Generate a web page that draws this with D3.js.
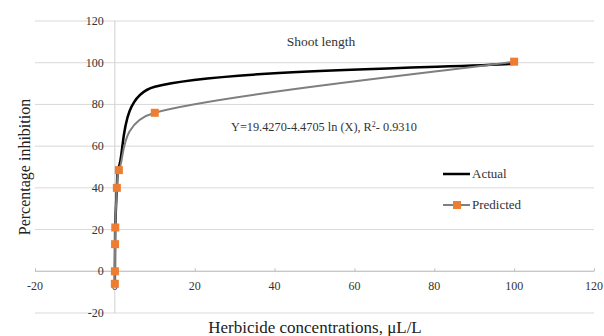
<!DOCTYPE html>
<html lang="en">
  <head>
    <script src="https://d3js.org/d3.v7.min.js"></script>
    <style>
      body { margin: 0; background: #fff; }
    </style>
  </head>
  <body>
    <script>
      // herbicide concentration (uL/L) and inhibition (%)
      var concentrations = [0.001, 0.01, 0.05, 0.1, 0.5, 1, 10, 100];
      var actual = [-6, 0, 13, 21, 40, 50, 88.5, 99.5];
      var predicted = [-6, 0, 13, 21, 40, 48.5, 76, 100.5];
      var xTicks = [-20, 0, 20, 40, 60, 80, 100, 120];
      var yTicks = [-20, 0, 20, 40, 60, 80, 100, 120];

      var width = 604,
        height = 336;

      var svg = d3
        .select("body")
        .append("svg")
        .attr("width", width)
        .attr("height", height)
        .attr("font-family", "'Liberation Serif', 'DejaVu Serif', serif");

      var x = d3.scaleLinear().domain([-20, 120]).range([35, 594]);
      var y = d3.scaleLinear().domain([-20, 120]).range([313, 21]);

      // horizontal gridlines
      svg
        .selectAll(".grid")
        .data(yTicks)
        .join("line")
        .attr("class", "grid")
        .attr("x1", x(-20))
        .attr("x2", x(120))
        .attr("y1", function (d) { return y(d); })
        .attr("y2", function (d) { return y(d); })
        .attr("stroke", "#d9d9d9")
        .attr("stroke-width", 1);

      // vertical axis at x = 0
      svg
        .append("line")
        .attr("x1", x(0))
        .attr("x2", x(0))
        .attr("y1", y(120))
        .attr("y2", y(-20))
        .attr("stroke", "#d0d0d0")
        .attr("stroke-width", 1);

      // x axis sits on y = 0
      var xAxis = d3
        .axisTop(x)
        .tickValues(xTicks)
        .tickSize(3)
        .tickFormat("");
      var gx = svg
        .append("g")
        .attr("transform", "translate(0," + y(0) + ")")
        .call(xAxis);
      gx.selectAll("path, line").attr("stroke", "#c0c0c0");
      gx.select(".domain").attr("d", "M" + x(-20) + ",0H" + x(120));

      svg
        .selectAll(".xlab")
        .data(xTicks)
        .join("text")
        .attr("class", "xlab")
        .attr("x", function (d) { return x(d); })
        .attr("y", y(0) + 19)
        .attr("text-anchor", "middle")
        .attr("font-size", 12)
        .attr("fill", "#333")
        .text(function (d) { return d; });

      svg
        .selectAll(".ylab")
        .data(yTicks)
        .join("text")
        .attr("class", "ylab")
        .attr("x", x(0) - 11)
        .attr("y", function (d) { return y(d) + 4; })
        .attr("text-anchor", "end")
        .attr("font-size", 12)
        .attr("fill", "#333")
        .text(function (d) { return d; });

      // excel-ish smoothing: catmull-rom handles, kept inside each segment's x span
      function curveExcel(context) {
        var pts;
        return {
          areaStart: function () {},
          areaEnd: function () {},
          lineStart: function () { pts = []; },
          point: function (px, py) { pts.push([+px, +py]); },
          lineEnd: function () {
            var n = pts.length;
            if (!n) return;
            context.moveTo(pts[0][0], pts[0][1]);
            for (var i = 0; i < n - 1; i++) {
              var p0 = pts[Math.max(i - 1, 0)],
                p1 = pts[i],
                p2 = pts[i + 1],
                p3 = pts[Math.min(i + 2, n - 1)];
              var dx = p2[0] - p1[0];
              var t1 = [(p2[0] - p0[0]) / 6, (p2[1] - p0[1]) / 6];
              var t2 = [(p3[0] - p1[0]) / 6, (p3[1] - p1[1]) / 6];
              var s1 = t1[0] > dx ? dx / t1[0] : 1;
              var s2 = t2[0] > dx ? dx / t2[0] : 1;
              context.bezierCurveTo(
                p1[0] + t1[0] * s1, p1[1] + t1[1] * s1,
                p2[0] - t2[0] * s2, p2[1] - t2[1] * s2,
                p2[0], p2[1]
              );
            }
          }
        };
      }

      var line = d3
        .line()
        .x(function (d) { return x(d[0]); })
        .y(function (d) { return y(d[1]); })
        .curve(curveExcel);

      var actualPts = concentrations.map(function (c, i) { return [c, actual[i]]; });
      var predPts = concentrations.map(function (c, i) { return [c, predicted[i]]; });

      svg
        .append("path")
        .attr("d", line(actualPts))
        .attr("fill", "none")
        .attr("stroke", "#000")
        .attr("stroke-width", 2.5);

      svg
        .append("path")
        .attr("d", line(predPts))
        .attr("fill", "none")
        .attr("stroke", "#7f7f7f")
        .attr("stroke-width", 2);

      svg
        .selectAll(".mk")
        .data(predPts)
        .join("rect")
        .attr("class", "mk")
        .attr("x", function (d) { return x(d[0]) - 4; })
        .attr("y", function (d) { return y(d[1]) - 4; })
        .attr("width", 8)
        .attr("height", 8)
        .attr("fill", "#ed7d31");

      // titles and annotation
      svg
        .append("text")
        .attr("x", 321)
        .attr("y", 46)
        .attr("text-anchor", "middle")
        .attr("font-size", 13.5)
        .attr("fill", "#333")
        .text("Shoot length");

      var eq = svg
        .append("text")
        .attr("x", 231)
        .attr("y", 131)
        .attr("font-size", 12.3)
        .attr("fill", "#333");
      eq.append("tspan").text("Y=19.4270-4.4705 ln (X), R");
      eq.append("tspan").attr("dy", -4).attr("font-size", 8).text("2");
      eq.append("tspan").attr("dy", 4).text("- 0.9310");

      svg
        .append("text")
        .attr("x", 315)
        .attr("y", 333)
        .attr("text-anchor", "middle")
        .attr("font-size", 17)
        .attr("fill", "#222")
        .text("Herbicide concentrations, \u03bcL/L");

      svg
        .append("text")
        .attr("transform", "translate(30,167) rotate(-90)")
        .attr("text-anchor", "middle")
        .attr("font-size", 16)
        .attr("fill", "#222")
        .text("Percentage inhibition");

      // legend
      svg
        .append("line")
        .attr("x1", 443).attr("x2", 470)
        .attr("y1", 174).attr("y2", 174)
        .attr("stroke", "#000").attr("stroke-width", 2.5);
      svg
        .append("text")
        .attr("x", 472).attr("y", 178)
        .attr("font-size", 13)
        .attr("fill", "#333")
        .text("Actual");

      svg
        .append("line")
        .attr("x1", 443).attr("x2", 470)
        .attr("y1", 205).attr("y2", 205)
        .attr("stroke", "#7f7f7f").attr("stroke-width", 2);
      svg
        .append("rect")
        .attr("x", 453).attr("y", 201)
        .attr("width", 8).attr("height", 8)
        .attr("fill", "#ed7d31");
      svg
        .append("text")
        .attr("x", 472).attr("y", 209)
        .attr("font-size", 13)
        .attr("fill", "#333")
        .text("Predicted");
    </script>
  </body>
</html>
